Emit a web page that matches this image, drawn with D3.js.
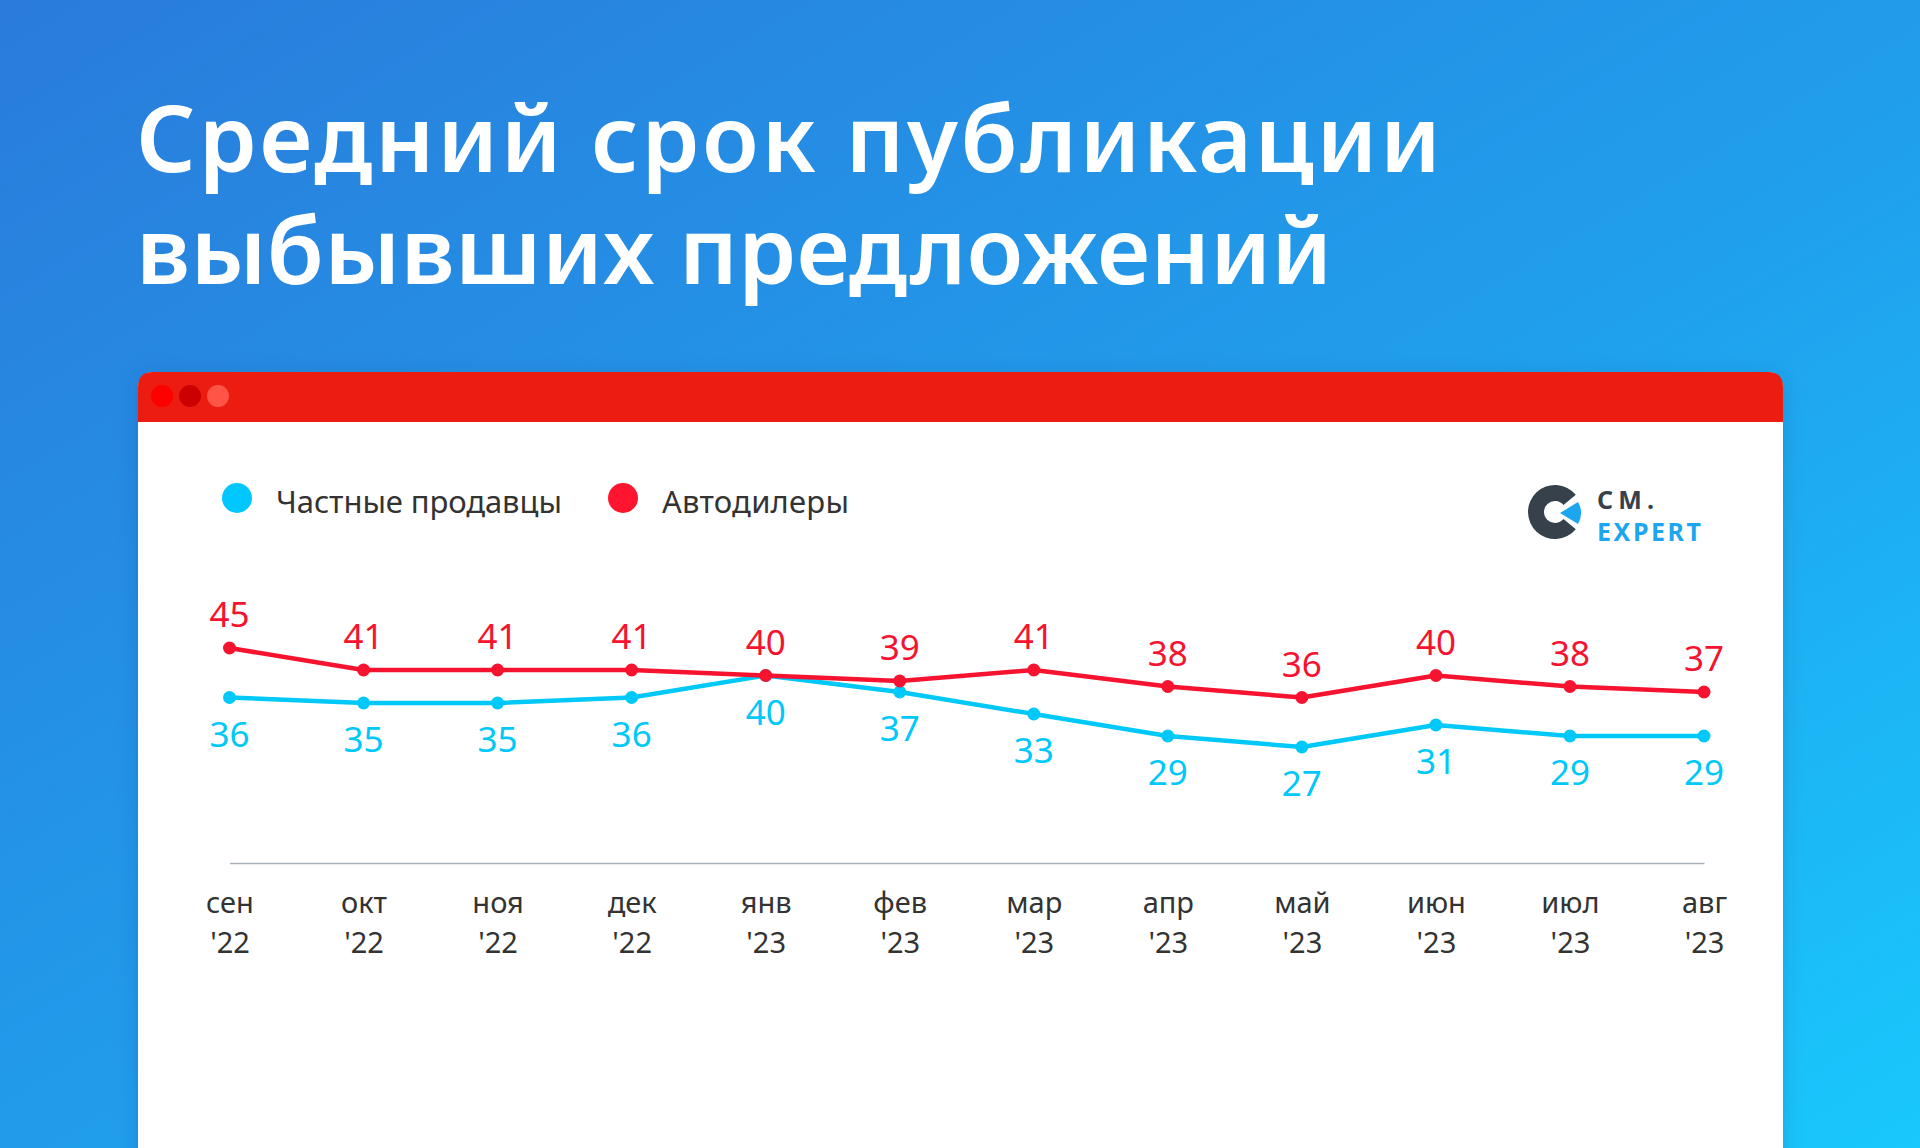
<!DOCTYPE html>
<html>
<head>
<meta charset="utf-8">
<script src="https://cdn.jsdelivr.net/npm/d3@7"></script>
<style>
  html, body { margin: 0; padding: 0; overflow: hidden; background: #2388e4; }
  text { font-family: "Noto Sans", "Open Sans", sans-serif; }
</style>
</head>
<body>
<svg id="chart" width="1920" height="1148"></svg>
<script>
"use strict";

// --- data ---
const months = ["сен", "окт", "ноя", "дек", "янв", "фев", "мар", "апр", "май", "июн", "июл", "авг"];
const years = ["'22", "'22", "'22", "'22", "'23", "'23", "'23", "'23", "'23", "'23", "'23", "'23"];
const privateSellers = [36, 35, 35, 36, 40, 37, 33, 29, 27, 31, 29, 29];
const dealers = [45, 41, 41, 41, 40, 39, 41, 38, 36, 40, 38, 37];
const seriesNames = ["Частные продавцы", "Автодилеры"];
const titleLines = ["Средний срок публикации", "выбывших предложений"];

const W = 1920, H = 1148;
const svg = d3.select("#chart");
const defs = svg.append("defs");

// background gradient
let bg = defs.append("linearGradient").attr("id", "bg")
  .attr("x1", "0").attr("y1", "0").attr("x2", "1").attr("y2", "1");
bg.append("stop").attr("offset", "0").attr("stop-color", "#2a7bdb");
bg.append("stop").attr("offset", "0.55").attr("stop-color", "#209fec");
bg.append("stop").attr("offset", "1").attr("stop-color", "#19c8fd");
svg.append("rect").attr("width", W).attr("height", H).attr("fill", "url(#bg)");

let sh = defs.append("filter").attr("id", "shadow")
  .attr("x", "-5%").attr("y", "-5%").attr("width", "110%").attr("height", "110%");
sh.append("feDropShadow").attr("dx", 0).attr("dy", 4).attr("stdDeviation", 10)
  .attr("flood-color", "#0b3d7a").attr("flood-opacity", 0.22);

// spread letters so a line fills the width measured on the reference
function fitWidth (sel, width) {
  let node = sel.node();
  let n = sel.text().length;
  let w = node.getComputedTextLength();
  sel.attr("letter-spacing", ((width - w) / (n - 1)).toFixed(2));
}

// title: one text block, two lines
let title = svg.append("text").attr("fill", "#fff")
  .attr("font-size", 93).attr("font-weight", 600);
[[172, 1305], [284, 1196]].forEach(([y, w], i) => {
  let t = title.append("tspan").attr("x", 136).attr("y", y).text(titleLines[i]);
  fitWidth(t, w);
});

// card (window)
const card = { x: 138, y: 372, w: 1645, r: 15, head: 50 };
let cg = svg.append("g");
cg.append("rect").attr("x", card.x).attr("y", card.y).attr("width", card.w)
  .attr("height", H - card.y + 40).attr("rx", card.r)
  .attr("fill", "#fff").attr("filter", "url(#shadow)");
cg.append("path")
  .attr("d", `M${card.x},${card.y + card.head} V${card.y + card.r} Q${card.x},${card.y} ${card.x + card.r},${card.y}
    H${card.x + card.w - card.r} Q${card.x + card.w},${card.y} ${card.x + card.w},${card.y + card.r} V${card.y + card.head} Z`)
  .attr("fill", "#ec1d10");
["#ff0000", "#cc0000", "#ff5446"].forEach((c, i) => {
  cg.append("circle").attr("cx", 162 + i * 28).attr("cy", 396).attr("r", 11).attr("fill", c);
});

// legend
const colors = ["#00c8f8", "#f5132f"];
const legendX = [[237, 276, 286], [623, 662, 187]];
legendX.forEach(([cx, tx, tw], i) => {
  svg.append("circle").attr("cx", cx).attr("cy", 498).attr("r", 15)
    .attr("fill", i ? "#ff1530" : "#00c8ff");
  let t = svg.append("text").attr("x", tx).attr("y", 513)
    .attr("font-size", 31).attr("fill", "#333").text(seriesNames[i]);
  fitWidth(t, tw);
});

// logo
let logo = svg.append("g");
let arc = d3.arc().innerRadius(11).outerRadius(27)
  .startAngle(Math.PI * 0.72).endAngle(Math.PI * 2.28);
logo.append("path").attr("transform", "translate(1555,512)").attr("d", arc()).attr("fill", "#37414b");
logo.append("path")
  .attr("d", "M1560,513 L1578,502 A21,21 0 0 1 1578,524 Z").attr("fill", "#1da6f0");
let cm = logo.append("text").attr("x", 1597).attr("y", 509).attr("font-size", 25)
  .attr("font-weight", 700).attr("fill", "#37414b").text("CM.");
fitWidth(cm, 57);
let ex = logo.append("text").attr("x", 1597).attr("y", 541).attr("font-size", 25)
  .attr("font-weight", 700).attr("fill", "#1da6f0").text("EXPERT");
fitWidth(ex, 104);

// scales
let x = d3.scalePoint().domain(months).range([229.5, 1704]);
let y = d3.scaleLinear().domain([0, 50]).range([895.5, 620.5]);

// axis baseline and month labels
let axis = svg.append("g").attr("transform", "translate(0,863)")
  .call(d3.axisBottom(x).tickSize(0).tickPadding(0).tickFormat(""));
axis.select(".domain").attr("stroke", "#a9b1bb").attr("stroke-width", 1.5);
axis.selectAll(".tick").each(function (d, i) {
  let g = d3.select(this);
  g.append("text").attr("y", 50).attr("fill", "#333").attr("font-size", 29)
    .attr("text-anchor", "middle").text(d);
  g.append("text").attr("y", 90).attr("fill", "#333").attr("font-size", 29)
    .attr("text-anchor", "middle").text(years[i]);
});

// lines, points and value labels
let line = d3.line().x((d, i) => x(months[i])).y(d => y(d));
[privateSellers, dealers].forEach((vals, s) => {
  let g = svg.append("g");
  g.append("path").attr("d", line(vals)).attr("fill", "none")
    .attr("stroke", colors[s]).attr("stroke-width", 4.5).attr("stroke-linejoin", "round");
  g.selectAll("circle").data(vals).join("circle")
    .attr("cx", (d, i) => x(months[i])).attr("cy", d => y(d)).attr("r", 6.5)
    .attr("fill", colors[s]);
  g.selectAll("text").data(vals).join("text")
    .attr("x", (d, i) => x(months[i]))
    .attr("y", d => s ? y(d) - 21 : y(d) + 49)
    .attr("text-anchor", "middle").attr("font-size", 35)
    .attr("fill", colors[s]).text(d => d);
});
</script>
</body>
</html>
